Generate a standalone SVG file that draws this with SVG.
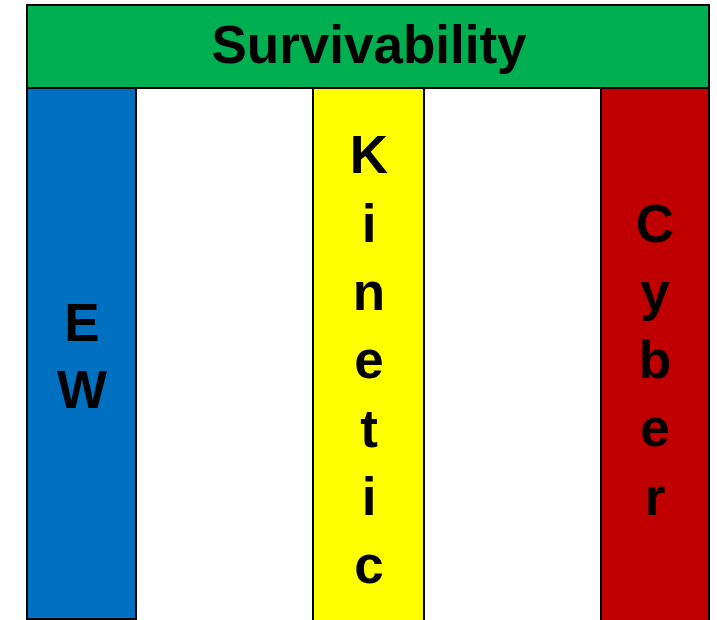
<svg xmlns="http://www.w3.org/2000/svg" width="717" height="620" viewBox="0 0 717 620">
  <style>
    .box { stroke: #000; stroke-width: 2; }
    .lbl { font-family: "Liberation Sans", Arial, sans-serif; font-weight: bold; font-size: 53px; fill: #000; text-anchor: middle; }
  </style>
  <rect width="717" height="620" fill="#fff"/>

  <!-- pillars -->
  <g id="ew">
    <rect class="box" x="27" y="88" width="109" height="531" fill="#0070C0"/>
    <text class="lbl" x="82" y="341">E</text>
    <text class="lbl" x="82" y="408">W</text>
  </g>
  <g id="kinetic">
    <rect class="box" x="313" y="88" width="111" height="540" fill="#FFFF00"/>
    <text class="lbl" x="369" y="173">K</text>
    <text class="lbl" x="369" y="242">i</text>
    <text class="lbl" x="369" y="310">n</text>
    <text class="lbl" x="369" y="378">e</text>
    <text class="lbl" x="369" y="447">t</text>
    <text class="lbl" x="369" y="515">i</text>
    <text class="lbl" x="369" y="583">c</text>
  </g>
  <g id="cyber">
    <rect class="box" x="601" y="88" width="108" height="540" fill="#C00000"/>
    <text class="lbl" x="655" y="242">C</text>
    <text class="lbl" x="655" y="310">y</text>
    <text class="lbl" x="655" y="378">b</text>
    <text class="lbl" x="655" y="446">e</text>
    <text class="lbl" x="655" y="515">r</text>
  </g>

  <!-- roof -->
  <g id="survivability">
    <rect class="box" x="27" y="5" width="682" height="83" fill="#00B050"/>
    <text class="lbl" x="369" y="63">Survivability</text>
  </g>

  <g id="connectors"/>
</svg>
